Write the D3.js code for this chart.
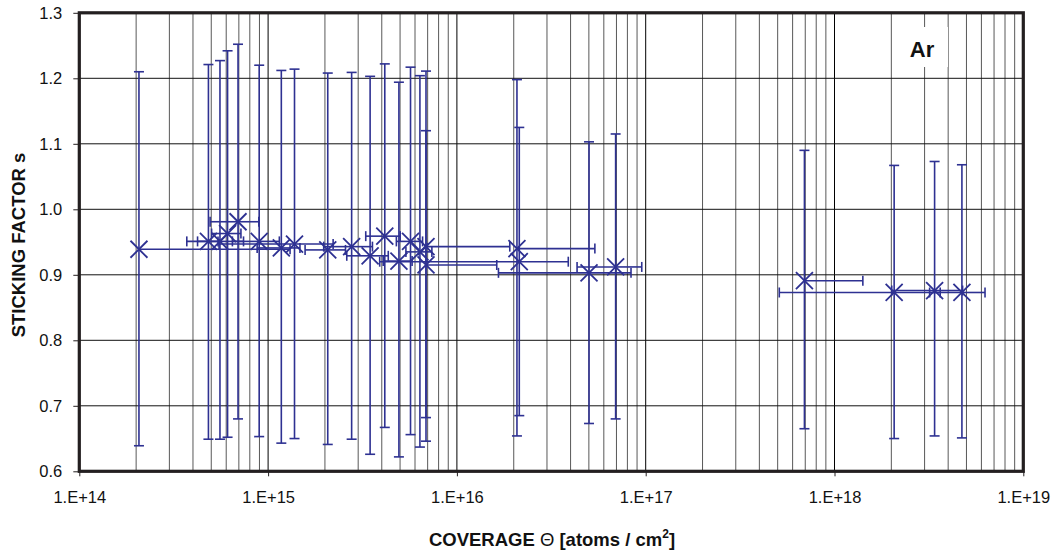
<!DOCTYPE html>
<html>
<head>
<meta charset="utf-8">
<script src="https://cdnjs.cloudflare.com/ajax/libs/d3/7.8.5/d3.min.js"></script>
<style>
  html, body { margin: 0; padding: 0; background: #fff; }
  svg { display: block; font-family: "Liberation Sans", Arial, sans-serif; }
</style>
</head>
<body>
<svg id="chart" width="1060" height="552"></svg>
<script>
// ---- data ----
const coverage = [2.07e14, 4.83e14, 5.56e14, 6.10e14, 6.93e14, 8.97e14, 1.175e15, 1.38e15, 2.07e15, 2.77e15,
                  3.47e15, 4.15e15, 4.93e15, 5.68e15, 6.37e15, 6.86e15, 6.86e15, 2.08e16, 2.14e16, 5.01e16,
                  6.93e16, 6.93e17, 2.07e18, 3.39e18, 4.73e18];
const coverageErr = [1.1e15, 0.6e14, 1.85e14, 1.08e14, 2.0e14, 2.5e14, 3.0e14, 8.3e14, 5e14, 8e14,
                     8.6e14, 8.6e14, 8.6e14, 9e14, 1.0e15, 1.22e16, 9.4e15, 3.3e16, 1.75e16, 3.35e16,
                     2.6e16, 7.2e17, 1.56e18, 1.38e18, 1.54e18];
const sticking = [0.939, 0.951, 0.951, 0.963, 0.981, 0.951, 0.941, 0.947, 0.938, 0.943,
                  0.929, 0.959, 0.921, 0.951, 0.935, 0.943, 0.915, 0.940, 0.920, 0.903,
                  0.912, 0.891, 0.873, 0.876, 0.873];
const stickingHi = [1.210, 1.221, 1.227, 1.242, 1.252, 1.220, 1.212, 1.214, 1.208, 1.209,
                    1.203, 1.222, 1.194, 1.217, 1.204, 1.211, 1.120, 1.198, 1.125, 1.103,
                    1.115, 1.090, 1.067, 1.073, 1.068];
const stickingLo = [0.639, 0.649, 0.649, 0.652, 0.680, 0.653, 0.643, 0.650, 0.641, 0.649,
                    0.626, 0.667, 0.622, 0.656, 0.637, 0.646, 0.682, 0.654, 0.685, 0.673,
                    0.680, 0.665, 0.650, 0.654, 0.651];
const xDomain = [1e14, 1e19];
const yDomain = [0.6, 1.3];
const yTicks = [0.6, 0.7, 0.8, 0.9, 1.0, 1.1, 1.2, 1.3];
const xTicks = [1e14, 1e15, 1e16, 1e17, 1e18, 1e19];
const labelText = "Ar";

// ---- layout ----
const svg = d3.select("#chart");
const L = 79.3, R = 1023.3, T = 12.8, B = 471.3;
const x = d3.scaleLog().domain(xDomain).range([L, R]);
const y = d3.scaleLinear().domain(yDomain).range([B, T]);
const blue = "#2e3192";

const grid = svg.append("g");
// minor vertical gridlines
const minor = [];
for (let e = 14; e < 19; e++) for (let m = 2; m <= 9; m++) minor.push(m * Math.pow(10, e));
grid.selectAll("line.minor").data(minor).join("line")
  .attr("x1", d => x(d)).attr("x2", d => x(d)).attr("y1", T).attr("y2", B)
  .attr("stroke", "#000").attr("stroke-width", 1).attr("opacity", 0.65);
grid.selectAll("line.major").data(xTicks).join("line")
  .attr("x1", d => x(d)).attr("x2", d => x(d)).attr("y1", T).attr("y2", B)
  .attr("stroke", "#000").attr("stroke-width", 1);
grid.selectAll("line.h").data(yTicks).join("line")
  .attr("x1", L).attr("x2", R).attr("y1", d => y(d)).attr("y2", d => y(d))
  .attr("stroke", "#111").attr("stroke-width", 1);

// ---- data marks ----
const pts = coverage.map((c, i) => ({ c, dc: coverageErr[i], s: sticking[i], hi: stickingHi[i], lo: stickingLo[i] }));
const g = svg.append("g").attr("stroke", blue).attr("stroke-width", 1.6).attr("fill", "none");
const cap = 5;
pts.forEach(p => {
  const px = x(p.c), py = y(p.s);
  // vertical error bar
  g.append("line").attr("x1", px).attr("x2", px).attr("y1", y(p.hi)).attr("y2", y(p.lo));
  g.append("line").attr("x1", px - cap).attr("x2", px + cap).attr("y1", y(p.hi)).attr("y2", y(p.hi));
  g.append("line").attr("x1", px - cap).attr("x2", px + cap).attr("y1", y(p.lo)).attr("y2", y(p.lo));
  // horizontal error bar (linear error on log axis; negative side omitted)
  const xr = x(p.c + p.dc);
  g.append("line").attr("x1", px).attr("x2", xr).attr("y1", py).attr("y2", py);
  g.append("line").attr("x1", xr).attr("x2", xr).attr("y1", py - cap).attr("y2", py + cap);
  if (p.c - p.dc > 0) {
    const xl = x(p.c - p.dc);
    g.append("line").attr("x1", xl).attr("x2", px).attr("y1", py).attr("y2", py);
    g.append("line").attr("x1", xl).attr("x2", xl).attr("y1", py - cap).attr("y2", py + cap);
  }
});
const ms = 8.5;
g.selectAll("path.mk").data(pts).join("path")
  .attr("d", p => {
    const px = x(p.c), py = y(p.s);
    return `M${px - ms},${py - ms}L${px + ms},${py + ms}M${px - ms},${py + ms}L${px + ms},${py - ms}`;
  })
  .attr("stroke-width", 1.8);

// ---- frame ----
svg.append("rect").attr("x", L).attr("y", T).attr("width", R - L).attr("height", B - T)
  .attr("fill", "none").attr("stroke", "#231f20").attr("stroke-width", 3.2);

// ---- axes ----
const yAxis = svg.append("g").attr("transform", `translate(${L},0)`)
  .call(d3.axisLeft(y).tickValues(yTicks).tickFormat(d3.format(".1f")).tickSize(6).tickPadding(11));
const xAxis = svg.append("g").attr("transform", `translate(0,${B})`)
  .call(d3.axisBottom(x).tickValues(xTicks).tickFormat(d => "1.E+" + Math.round(Math.log10(d))).tickSize(5).tickPadding(15));
[yAxis, xAxis].forEach(a => {
  a.select(".domain").remove();
  a.selectAll("line").attr("stroke", "#231f20");
  a.selectAll("text").attr("font-size", 16.5).attr("fill", "#111")
    .attr("font-family", "'Liberation Sans', Arial, sans-serif");
});

// ---- titles ----
const xt = svg.append("text").attr("x", 552).attr("y", 546).attr("text-anchor", "middle")
  .attr("font-size", 18.5).attr("font-weight", "bold").attr("fill", "#111");
xt.append("tspan").text("COVERAGE ");
xt.append("tspan").attr("font-weight", "normal").text("Θ");
xt.append("tspan").text(" [atoms / cm");
xt.append("tspan").attr("font-size", 12).attr("dy", -8).text("2");
xt.append("tspan").attr("dy", 8).text("]");

svg.append("text").attr("transform", "translate(25,245) rotate(-90)").attr("text-anchor", "middle")
  .attr("font-size", 18.5).attr("font-weight", "bold").attr("fill", "#111")
  .text("STICKING FACTOR  s");

// ---- "Ar" label box ----
svg.append("rect").attr("x", 892).attr("y", 27).attr("width", 56).attr("height", 40).attr("fill", "#fff");
svg.append("text").attr("x", 922).attr("y", 57).attr("text-anchor", "middle")
  .attr("font-size", 22).attr("font-weight", "bold").attr("fill", "#111").text(labelText);
</script>
</body>
</html>
